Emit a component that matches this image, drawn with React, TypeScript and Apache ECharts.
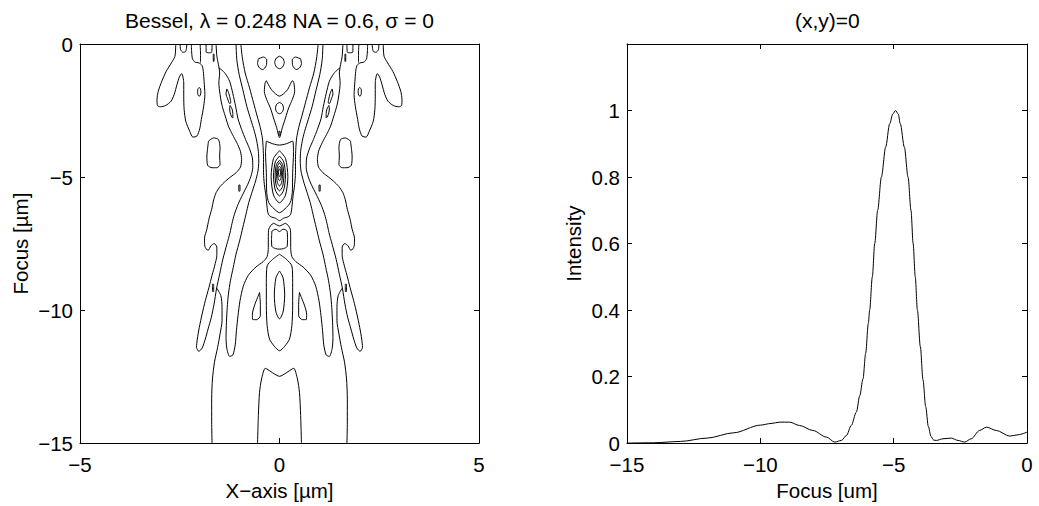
import { useEffect, useRef } from 'react';
import * as echarts from 'echarts';

const FONT = "'Liberation Sans', Arial, Helvetica, sans-serif";

// ---------- texts ----------
const titleLeft = 'Bessel, \u03bb = 0.248 NA = 0.6, \u03c3 = 0';
const titleRight = '(x,y)=0';
const contourXName = 'X\u2212axis [\u00b5m]';
const contourYName = 'Focus [\u00b5m]';
const lineXName = 'Focus [um]';
const lineYName = 'Intensity';

// ---------- ticks ----------
const contourXTicks = [-5, 0, 5];
const contourXLabels = ['\u22125', '0', '5'];
const contourYTicks = [-15, -10, -5, 0];
const contourYLabels = ['\u221215', '\u221210', '\u22125', '0'];
const focusTicks = [-15, -10, -5, 0];
const focusLabels = ['\u221215', '\u221210', '\u22125', '0'];
const intensityTicks = [0, 0.2, 0.4, 0.6, 0.8, 1];
const intensityLabels = ['0', '0.2', '0.4', '0.6', '0.8', '1'];

// ---------- axial intensity profile ----------
const focusPos = [-15, -14, -13, -12, -11, -10, -9.6, -9.27, -8.9, -8.53, -8.03, -7.52, -7.21, -6.96, -6.77, -6.59, -6.4, -6.27, -6.15, -6.05, -5.95, -5.9, -5.8, -5.71, -5.6, -5.46, -5.3, -5.15, -5.03, -4.93, -4.83, -4.75, -4.6, -4.46, -4.35, -4.27, -4.19, -4.11, -4.0, -3.9, -3.8, -3.7, -3.6, -3.5, -3.4, -3.15, -2.84, -2.59, -2.34, -2.09, -1.78, -1.52, -1.15, -0.65, -0.34, 0];
const intensity = [0, 0.001, 0.005, 0.015, 0.031, 0.054, 0.059, 0.063, 0.063, 0.053, 0.038, 0.018, 0.003, 0.008, 0.023, 0.053, 0.093, 0.143, 0.193, 0.27, 0.36, 0.4, 0.5, 0.6, 0.7, 0.8, 0.89, 0.96, 0.99, 1.0, 0.99, 0.96, 0.89, 0.8, 0.7, 0.6, 0.5, 0.4, 0.29, 0.19, 0.11, 0.05, 0.02, 0.009, 0.008, 0.013, 0.015, 0.008, 0.003, 0.013, 0.038, 0.048, 0.038, 0.021, 0.025, 0.033];

// ---------- contour lines (x [um], focus [um]) ----------
const wingL = [[-2.60,0],[-2.62,-0.46],[-2.71,-0.71],[-2.84,-1.03],[-2.95,-1.40],[-3.04,-1.78],[-3.07,-2.09],[-3.06,-2.31],[-2.99,-2.36],[-2.85,-2.31],[-2.72,-2.15],[-2.64,-1.90],[-2.57,-1.53],[-2.51,-1.24],[-2.45,-1.11],[-2.40,-1.46],[-2.40,-1.96],[-2.39,-2.46],[-2.35,-2.90],[-2.25,-3.28],[-2.17,-3.50],[-2.07,-3.46],[-2.00,-3.19],[-1.96,-2.84],[-1.90,-2.34],[-1.87,-1.90],[-1.89,-1.40],[-1.91,-1.03],[-1.94,-0.81],[-2.02,-0.71],[-2.12,-0.68],[-2.18,-0.56],[-2.20,-0.34],[-2.21,0]];
const wingR = [[2.60,0],[2.62,-0.46],[2.71,-0.71],[2.84,-1.03],[2.95,-1.40],[3.04,-1.78],[3.07,-2.09],[3.06,-2.31],[2.99,-2.36],[2.85,-2.31],[2.72,-2.15],[2.64,-1.90],[2.57,-1.53],[2.51,-1.24],[2.45,-1.11],[2.40,-1.46],[2.40,-1.96],[2.39,-2.46],[2.35,-2.90],[2.25,-3.28],[2.17,-3.50],[2.07,-3.46],[2.00,-3.19],[1.96,-2.84],[1.90,-2.34],[1.87,-1.90],[1.89,-1.40],[1.91,-1.03],[1.94,-0.81],[2.02,-0.71],[2.12,-0.68],[2.18,-0.56],[2.20,-0.34],[2.21,0]];
const u1L = [[-2.49,0],[-2.48,-0.21],[-2.42,-0.31],[-2.35,-0.28],[-2.32,0]];
const u1R = [[2.49,0],[2.48,-0.21],[2.42,-0.31],[2.35,-0.28],[2.32,0]];
const u2L = [[-1.99,0],[-1.98,-0.34],[-1.98,-0.70]];
const u2R = [[1.99,0],[1.98,-0.34],[1.98,-0.70]];
const u3L = [[-1.84,0],[-1.84,-0.30],[-1.77,-0.33],[-1.70,-0.31],[-1.69,0]];
const u3R = [[1.84,0],[1.84,-0.30],[1.77,-0.33],[1.70,-0.31],[1.69,0]];
const dash1L = [[-1.66,-0.38],[-1.64,-0.38],[-1.64,-0.65],[-1.66,-0.65],[-1.66,-0.38]];
const dash1R = [[1.66,-0.38],[1.64,-0.38],[1.64,-0.65],[1.66,-0.65],[1.66,-0.38]];
const islandL = [[-2.01,-1.63],[-1.98,-1.69],[-1.97,-1.81],[-1.99,-1.94],[-2.02,-1.96],[-2.05,-1.86],[-2.05,-1.71],[-2.01,-1.63]];
const islandR = [[2.01,-1.63],[1.98,-1.69],[1.97,-1.81],[1.99,-1.94],[2.02,-1.96],[2.05,-1.86],[2.05,-1.71],[2.01,-1.63]];
const outerL = [[-1.59,0],[-1.57,-0.46],[-1.53,-0.78],[-1.50,-1.09],[-1.52,-1.46],[-1.49,-1.90],[-1.44,-2.31],[-1.36,-2.71],[-1.28,-3.09],[-1.18,-3.40],[-1.07,-3.71],[-0.98,-4.03],[-0.95,-4.34],[-0.98,-4.63],[-1.09,-4.84],[-1.22,-4.99],[-1.35,-5.15],[-1.49,-5.36],[-1.59,-5.59],[-1.65,-5.86],[-1.70,-6.21],[-1.77,-6.59],[-1.82,-6.96],[-1.88,-7.30],[-1.87,-7.61],[-1.79,-7.76],[-1.72,-7.59],[-1.64,-7.50],[-1.57,-7.63],[-1.57,-7.94],[-1.61,-8.25],[-1.69,-8.69],[-1.77,-9.16],[-1.86,-9.65],[-1.94,-10.15],[-2.01,-10.65],[-2.06,-11.09],[-2.08,-11.40],[-2.02,-11.55],[-1.94,-11.43],[-1.86,-11.09],[-1.79,-10.71],[-1.71,-10.28],[-1.64,-9.78],[-1.58,-9.21],[-1.50,-8.65],[-1.42,-8.09],[-1.32,-7.53],[-1.24,-7.09],[-1.19,-6.74],[-1.13,-6.40],[-1.04,-6.03],[-0.92,-5.65],[-0.80,-5.29],[-0.72,-4.99],[-0.67,-4.65],[-0.68,-4.28],[-0.75,-3.94],[-0.85,-3.59],[-0.95,-3.21],[-1.04,-2.81],[-1.10,-2.34],[-1.17,-1.86],[-1.25,-1.40],[-1.36,-1.11],[-1.46,-0.96],[-1.52,-0.90]];
const outerR = [[1.59,0],[1.57,-0.46],[1.53,-0.78],[1.50,-1.09],[1.52,-1.46],[1.49,-1.90],[1.44,-2.31],[1.36,-2.71],[1.28,-3.09],[1.18,-3.40],[1.07,-3.71],[0.98,-4.03],[0.95,-4.34],[0.98,-4.63],[1.09,-4.84],[1.22,-4.99],[1.35,-5.15],[1.49,-5.36],[1.59,-5.59],[1.65,-5.86],[1.70,-6.21],[1.77,-6.59],[1.82,-6.96],[1.88,-7.30],[1.87,-7.61],[1.79,-7.76],[1.72,-7.59],[1.64,-7.50],[1.57,-7.63],[1.57,-7.94],[1.61,-8.25],[1.69,-8.69],[1.77,-9.16],[1.86,-9.65],[1.94,-10.15],[2.01,-10.65],[2.06,-11.09],[2.08,-11.40],[2.02,-11.55],[1.94,-11.43],[1.86,-11.09],[1.79,-10.71],[1.71,-10.28],[1.64,-9.78],[1.58,-9.21],[1.50,-8.65],[1.42,-8.09],[1.32,-7.53],[1.24,-7.09],[1.19,-6.74],[1.13,-6.40],[1.04,-6.03],[0.92,-5.65],[0.80,-5.29],[0.72,-4.99],[0.67,-4.65],[0.68,-4.28],[0.75,-3.94],[0.85,-3.59],[0.95,-3.21],[1.04,-2.81],[1.10,-2.34],[1.17,-1.86],[1.25,-1.40],[1.36,-1.11],[1.46,-0.96],[1.52,-0.90]];
const blobL = [[-1.78,-3.65],[-1.65,-3.53],[-1.53,-3.59],[-1.49,-3.90],[-1.50,-4.21],[-1.49,-4.53],[-1.57,-4.65],[-1.69,-4.65],[-1.80,-4.56],[-1.82,-4.21],[-1.80,-3.90],[-1.78,-3.65]];
const blobR = [[1.78,-3.65],[1.65,-3.53],[1.53,-3.59],[1.49,-3.90],[1.50,-4.21],[1.49,-4.53],[1.57,-4.65],[1.69,-4.65],[1.80,-4.56],[1.82,-4.21],[1.80,-3.90],[1.78,-3.65]];
const dash2L = [[-1.02,-5.30],[-0.99,-5.30],[-0.99,-5.53],[-1.02,-5.53],[-1.02,-5.30]];
const dash2R = [[1.02,-5.30],[0.99,-5.30],[0.99,-5.53],[1.02,-5.53],[1.02,-5.30]];
const dash3L = [[-1.68,-9.03],[-1.65,-9.03],[-1.65,-9.30],[-1.68,-9.30],[-1.68,-9.03]];
const dash3R = [[1.68,-9.03],[1.65,-9.03],[1.65,-9.30],[1.68,-9.30],[1.68,-9.03]];
const spin1L = [[-1.32,-1.69],[-1.28,-1.81],[-1.24,-2.03],[-1.22,-2.21],[-1.25,-2.24],[-1.30,-2.06],[-1.34,-1.88],[-1.32,-1.69]];
const spin1R = [[1.32,-1.69],[1.28,-1.81],[1.24,-2.03],[1.22,-2.21],[1.25,-2.24],[1.30,-2.06],[1.34,-1.88],[1.32,-1.69]];
const spin2L = [[-1.24,-2.31],[-1.19,-2.44],[-1.17,-2.61],[-1.17,-2.78],[-1.20,-2.74],[-1.24,-2.56],[-1.25,-2.40],[-1.24,-2.31]];
const spin2R = [[1.24,-2.31],[1.19,-2.44],[1.17,-2.61],[1.17,-2.78],[1.20,-2.74],[1.24,-2.56],[1.25,-2.40],[1.24,-2.31]];
const ovalL = [[-0.53,-0.56],[-0.40,-0.49],[-0.32,-0.59],[-0.33,-0.81],[-0.42,-0.96],[-0.50,-0.90],[-0.55,-0.74],[-0.53,-0.56]];
const ovalR = [[0.53,-0.56],[0.40,-0.49],[0.32,-0.59],[0.33,-0.81],[0.42,-0.96],[0.50,-0.90],[0.55,-0.74],[0.53,-0.56]];
const ovalC = [[0,-0.46],[0.08,-0.53],[0.12,-0.69],[0.08,-0.86],[0,-0.93],[-0.08,-0.86],[-0.12,-0.69],[-0.08,-0.53],[0,-0.46]];
const triL = [[-0.50,-9.34],[-0.48,-9.78],[-0.48,-10.21],[-0.57,-10.36],[-0.67,-10.36],[-0.68,-10.15],[-0.63,-9.84],[-0.55,-9.53],[-0.50,-9.34]];
const triR = [[0.50,-9.34],[0.48,-9.78],[0.48,-10.21],[0.57,-10.36],[0.67,-10.36],[0.68,-10.15],[0.63,-9.84],[0.55,-9.53],[0.50,-9.34]];
const bottomL = [[-1.69,-15],[-1.70,-14.21],[-1.70,-13.34],[-1.68,-12.59],[-1.63,-11.96],[-1.55,-11.40],[-1.49,-10.90],[-1.44,-10.40],[-1.44,-9.90],[-1.47,-9.46],[-1.57,-9.18]];
const bottomR = [[1.69,-15],[1.70,-14.21],[1.70,-13.34],[1.68,-12.59],[1.63,-11.96],[1.55,-11.40],[1.49,-10.90],[1.44,-10.40],[1.44,-9.90],[1.47,-9.46],[1.57,-9.18]];
const fingerPath = [[-1.09,0],[-1.07,-0.59],[-1.01,-1.15],[-0.92,-1.71],[-0.82,-2.34],[-0.72,-2.84],[-0.63,-3.28],[-0.57,-3.65],[-0.53,-4.03],[-0.52,-4.40],[-0.54,-4.78],[-0.60,-5.15],[-0.68,-5.53],[-0.77,-5.96],[-0.84,-6.40],[-0.92,-6.90],[-1.00,-7.40],[-1.09,-7.90],[-1.16,-8.40],[-1.23,-8.90],[-1.28,-9.40],[-1.31,-9.90],[-1.33,-10.46],[-1.34,-11.03],[-1.32,-11.44],[-1.25,-11.74],[-1.17,-11.69],[-1.11,-11.31],[-1.08,-10.78],[-1.04,-10.21],[-0.99,-9.65],[-0.91,-9.11],[-0.78,-8.69],[-0.59,-8.38],[-0.41,-8.18],[-0.31,-7.99],[-0.28,-7.65],[-0.28,-7.24],[-0.27,-6.96],[-0.15,-6.74],[0,-6.84],[0.15,-6.74],[0.27,-6.96],[0.28,-7.24],[0.28,-7.65],[0.31,-7.99],[0.41,-8.18],[0.59,-8.38],[0.78,-8.69],[0.91,-9.11],[0.99,-9.65],[1.04,-10.21],[1.08,-10.78],[1.11,-11.31],[1.17,-11.69],[1.25,-11.74],[1.32,-11.44],[1.34,-11.03],[1.33,-10.46],[1.31,-9.90],[1.28,-9.40],[1.23,-8.90],[1.16,-8.40],[1.09,-7.90],[1.00,-7.40],[0.92,-6.90],[0.84,-6.40],[0.77,-5.96],[0.68,-5.53],[0.60,-5.15],[0.54,-4.78],[0.52,-4.40],[0.53,-4.03],[0.57,-3.65],[0.63,-3.28],[0.72,-2.84],[0.82,-2.34],[0.92,-1.71],[1.01,-1.15],[1.07,-0.59],[1.09,0]];
const innerPath = [[-0.97,0],[-0.93,-0.53],[-0.86,-1.09],[-0.75,-1.65],[-0.65,-2.21],[-0.56,-2.71],[-0.48,-3.15],[-0.43,-3.53],[-0.41,-3.90],[-0.40,-4.34],[-0.40,-4.84],[-0.38,-5.28],[-0.34,-5.71],[-0.31,-6.15],[-0.28,-6.40],[-0.22,-6.49],[-0.10,-6.55],[0,-6.64],[0.10,-6.55],[0.22,-6.49],[0.28,-6.40],[0.31,-6.15],[0.34,-5.71],[0.38,-5.28],[0.40,-4.84],[0.40,-4.34],[0.41,-3.90],[0.43,-3.53],[0.48,-3.15],[0.56,-2.71],[0.65,-2.21],[0.75,-1.65],[0.86,-1.09],[0.93,-0.53],[0.97,0]];
const horn = [[-0.33,-1.38],[-0.19,-1.74],[0,-1.96],[0.19,-1.74],[0.33,-1.38],[0.36,-1.46],[0.38,-1.78],[0.32,-2.09],[0.23,-2.40],[0.15,-2.78],[0.07,-3.15],[0,-3.52],[-0.07,-3.15],[-0.15,-2.78],[-0.23,-2.40],[-0.32,-2.09],[-0.38,-1.78],[-0.36,-1.46],[-0.33,-1.38]];
const ring = [[0,-2.20],[0.07,-2.26],[0.10,-2.41],[0.07,-2.56],[0,-2.62],[-0.07,-2.56],[-0.10,-2.41],[-0.07,-2.26],[0,-2.20]];
const dashC = [[-0.015,-3.28],[0.015,-3.28],[0.015,-3.43],[-0.015,-3.43],[-0.015,-3.28]];
const vase = [[-0.33,-3.65],[-0.17,-3.75],[0,-3.80],[0.17,-3.75],[0.33,-3.65],[0.35,-4.09],[0.33,-4.84],[0.32,-5.59],[0.27,-5.96],[0.14,-6.19],[0,-6.34],[-0.14,-6.19],[-0.27,-5.96],[-0.32,-5.59],[-0.33,-4.84],[-0.35,-4.09],[-0.33,-3.65]];
const peak1 = [[0,-4.01],[0.15,-4.30],[0.21,-4.99],[0.15,-5.68],[0,-5.97],[-0.15,-5.68],[-0.21,-4.99],[-0.15,-4.30],[0,-4.01]];
const peak2 = [[0,-4.21],[0.106,-4.43],[0.15,-4.96],[0.106,-5.49],[0,-5.71],[-0.106,-5.49],[-0.15,-4.96],[-0.106,-4.43],[0,-4.21]];
const peak3 = [[0,-4.37],[0.078,-4.53],[0.11,-4.94],[0.078,-5.35],[0,-5.52],[-0.078,-5.35],[-0.11,-4.94],[-0.078,-4.53],[0,-4.37]];
const peak4 = [[0,-4.46],[0.053,-4.59],[0.075,-4.90],[0.053,-5.21],[0,-5.34],[-0.053,-5.21],[-0.075,-4.90],[-0.053,-4.59],[0,-4.46]];
const peak5 = [[0,-4.59],[0.035,-4.67],[0.05,-4.86],[0.035,-5.05],[0,-5.14],[-0.035,-5.05],[-0.05,-4.86],[-0.035,-4.67],[0,-4.59]];
const peak6 = [[0,-4.69],[0.018,-4.73],[0.025,-4.84],[0.018,-4.95],[0,-4.99],[-0.018,-4.95],[-0.025,-4.84],[-0.018,-4.73],[0,-4.69]];
const box = [[-0.19,-7.03],[-0.09,-6.96],[0,-7.05],[0.09,-6.96],[0.19,-7.03],[0.20,-7.34],[0.19,-7.61],[0.10,-7.69],[0,-7.71],[-0.10,-7.69],[-0.19,-7.61],[-0.20,-7.34],[-0.19,-7.03]];
const lozenge = [[0,-7.90],[0.17,-8.09],[0.31,-8.34],[0.33,-8.96],[0.33,-9.84],[0.31,-10.59],[0.25,-11.09],[0.13,-11.36],[0,-11.53],[-0.13,-11.36],[-0.25,-11.09],[-0.31,-10.59],[-0.33,-9.84],[-0.33,-8.96],[-0.31,-8.34],[-0.17,-8.09],[0,-7.90]];
const lobe = [[0,-8.53],[0.09,-8.79],[0.13,-9.43],[0.09,-10.07],[0,-10.33],[-0.09,-10.07],[-0.13,-9.43],[-0.09,-8.79],[0,-8.53]];
const arch = [[-0.55,-15],[-0.53,-13.96],[-0.50,-13.09],[-0.45,-12.59],[-0.36,-12.19],[-0.32,-12.21],[-0.17,-12.36],[0,-12.49],[0.17,-12.36],[0.32,-12.21],[0.36,-12.19],[0.45,-12.59],[0.50,-13.09],[0.53,-13.96],[0.55,-15]];

const contourLines = [
  wingL, wingR, u1L, u1R, u2L, u2R, u3L, u3R, dash1L, dash1R, islandL, islandR,
  outerL, outerR, blobL, blobR, dash2L, dash2R, dash3L, dash3R, spin1L, spin1R,
  spin2L, spin2R, ovalL, ovalR, ovalC, triL, triR, bottomL, bottomR, fingerPath,
  innerPath, horn, ring, dashC, vase, peak1, peak2, peak3, peak4, peak5, peak6,
  box, lozenge, lobe, arch,
];

const labelFmt = (ticks: number[], labels: string[]) => (v: number) => {
  const i = ticks.findIndex((t) => Math.abs(t - v) < 1e-6);
  return i >= 0 ? labels[i] : '';
};

const black = '#000';
const textBase = { color: black, fontSize: 20.5, fontFamily: FONT };
const axisLine = { show: true, onZero: false, lineStyle: { color: black, width: 1 } };
const axisTick = { show: true, inside: true, length: 5, lineStyle: { color: black, width: 1 } };

function buildOption() {
  const contourSeries = contourLines.map((d) => ({
    type: 'line',
    xAxisIndex: 0,
    yAxisIndex: 0,
    data: d,
    symbol: 'none',
    smooth: 0.25,
    silent: true,
    lineStyle: { color: black, width: 1 },
  }));
  return {
    animation: false,
    backgroundColor: '#fff',
    textStyle: { fontFamily: FONT },
    grid: [
      { left: 80, top: 44, width: 399, height: 400 },
      { left: 627, top: 44, width: 400, height: 400 },
    ],
    graphic: [
      { type: 'text', x: 279.5, y: 9.5, style: { text: titleLeft, fill: black, fontSize: 21, fontFamily: FONT, align: 'center', verticalAlign: 'top' } },
      { type: 'text', x: 827.3, y: 9.5, style: { text: titleRight, fill: black, fontSize: 21, fontFamily: FONT, align: 'center', verticalAlign: 'top' } },
    ],
    xAxis: [
      {
        gridIndex: 0, type: 'value', min: -5, max: 5, interval: 5, position: 'bottom',
        axisLine, axisTick, splitLine: { show: false },
        axisLabel: { ...textBase, margin: 11, formatter: labelFmt(contourXTicks, contourXLabels) },
        name: contourXName, nameLocation: 'middle', nameGap: 35, nameTextStyle: textBase,
      },
      {
        gridIndex: 0, type: 'value', min: -5, max: 5, interval: 5, position: 'top',
        axisLine, axisTick, splitLine: { show: false }, axisLabel: { show: false },
      },
      {
        gridIndex: 1, type: 'value', min: -15, max: 0, interval: 5, position: 'bottom',
        axisLine, axisTick, splitLine: { show: false },
        axisLabel: { ...textBase, margin: 11, formatter: labelFmt(focusTicks, focusLabels) },
        name: lineXName, nameLocation: 'middle', nameGap: 35, nameTextStyle: textBase,
      },
      {
        gridIndex: 1, type: 'value', min: -15, max: 0, interval: 5, position: 'top',
        axisLine, axisTick, splitLine: { show: false }, axisLabel: { show: false },
      },
    ],
    yAxis: [
      {
        gridIndex: 0, type: 'value', min: -15, max: 0, interval: 5, position: 'left',
        axisLine, axisTick, splitLine: { show: false },
        axisLabel: { ...textBase, margin: 7, formatter: labelFmt(contourYTicks, contourYLabels) },
        name: contourYName, nameLocation: 'middle', nameGap: 49, nameTextStyle: textBase,
      },
      {
        gridIndex: 0, type: 'value', min: -15, max: 0, interval: 5, position: 'right',
        axisLine, axisTick, splitLine: { show: false }, axisLabel: { show: false },
      },
      {
        gridIndex: 1, type: 'value', min: 0, max: 1.2, interval: 0.2, position: 'left',
        axisLine, axisTick, splitLine: { show: false },
        axisLabel: { ...textBase, margin: 7, formatter: labelFmt(intensityTicks, intensityLabels) },
        name: lineYName, nameLocation: 'middle', nameGap: 43, nameTextStyle: textBase,
      },
      {
        gridIndex: 1, type: 'value', min: 0, max: 1.2, interval: 0.2, position: 'right',
        axisLine, axisTick, splitLine: { show: false }, axisLabel: { show: false },
      },
    ],
    series: [
      ...contourSeries,
      {
        type: 'line',
        xAxisIndex: 2,
        yAxisIndex: 2,
        data: focusPos.map((f, i) => [f, intensity[i]]),
        symbol: 'none',
        smooth: 0.3,
        smoothMonotone: 'x',
        silent: true,
        lineStyle: { color: black, width: 1 },
      },
    ],
  };
}

export default function App() {
  const ref = useRef<HTMLDivElement>(null);
  useEffect(() => {
    if (!ref.current) return;
    const chart = echarts.init(ref.current, undefined, { renderer: 'svg' });
    chart.setOption(buildOption() as any);
    return () => chart.dispose();
  }, []);
  return (
    <div
      ref={ref}
      style={{ position: 'fixed', left: 0, top: 0, width: 1039, height: 506, background: '#fff' }}
    />
  );
}
